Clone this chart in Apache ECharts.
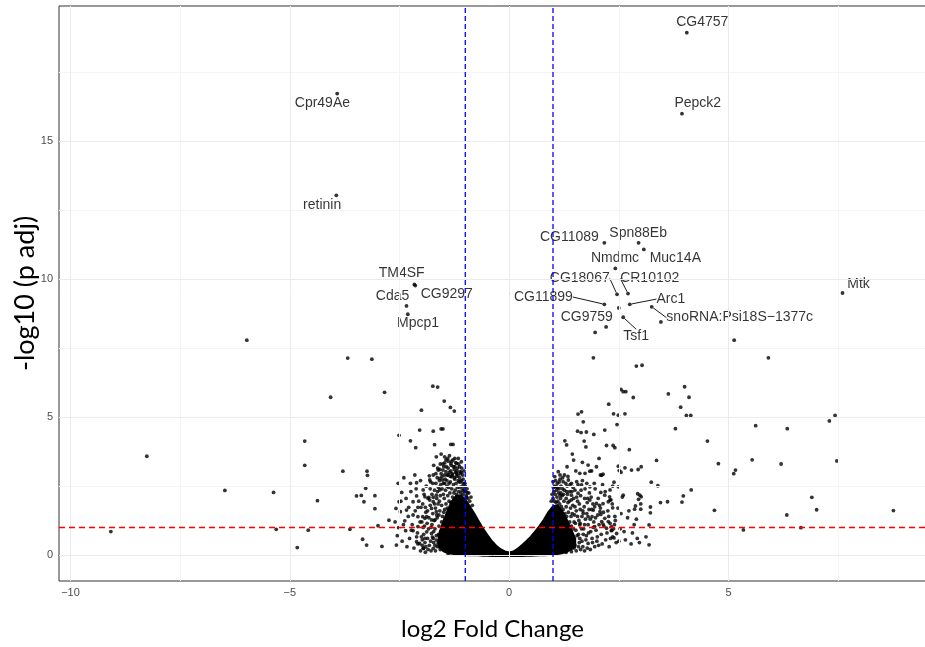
<!DOCTYPE html>
<html>
<head>
<meta charset="utf-8">
<script src="https://cdn.jsdelivr.net/npm/echarts@6/dist/echarts.min.js"></script>
<style>
  html, body { margin: 0; padding: 0; background: #ffffff; }
  #chart { width: 925px; height: 647px; }
</style>
</head>
<body>
<div id="chart"></div>
<script>
// ---- axis ticks ----
const xMajorTicks = [-10, -5, 0, 5];
const xMinorTicks = [-7.5, -2.5, 2.5, 7.5];
const yMajorTicks = [0, 5, 10, 15];
const yMinorTicks = [2.5, 7.5, 12.5, 17.5];

// ---- significance thresholds ----
const foldChangeCutoffs = [-1, 1];
const padjCutoff = 1;

// ---- labelled genes ----
const labelNames = ['CG4757', 'Pepck2', 'Cpr49Ae', 'retinin', 'TM4SF', 'CG9297', 'Cda5', 'Mpcp1',
  'CG11089', 'Spn88Eb', 'Muc14A', 'Nmdmc', 'CG18067', 'CR10102', 'CG11899', 'Arc1',
  'CG9759', 'Tsf1', 'snoRNA:Psi18S\u22121377c', 'Mtk'];
const labelFC = [4.05, 3.94, -3.92, -3.94, -2.16, -2.14, -2.34, -2.31,
  2.17, 2.95, 3.07, 2.42, 2.46, 2.71, 2.17, 2.75,
  2.50, 2.60, 3.25, 7.60];
const labelP = [18.94, 16.0, 16.73, 13.04, 9.81, 9.77, 9.03, 8.73,
  11.32, 11.32, 11.08, 10.39, 9.45, 9.48, 9.09, 9.09,
  8.96, 8.62, 9.0, 9.50];

// ---- remaining genes: [log2 fold change, -log10 adjusted p] ----
const downGenes = [
  [-9.08,0.85],[-8.26,3.58],[-6.48,2.34],[-5.98,7.79],[-5.37,2.27],[-5.31,0.93],[-4.83,0.27],
  [-4.66,4.13],[-4.66,3.25],[-4.58,0.9],[-4.37,1.97],[-4.07,5.72],[-3.79,3.04],[-3.68,7.14],
  [-3.63,0.93],[-3.48,2.14],[-3.37,2.16],[-3.34,0.57],[-3.31,1.93],[-3.27,2.42],[-3.25,0.36],
  [-3.24,3.04],[-3.23,2.89],[-3.13,7.1],[-3.06,2.15],[-3.06,1.68],[-2.99,1.06],[-2.9,0.31],
  [-2.84,5.9],[-2.74,1.26],[-2.58,1.69],[-2.57,0.36],[-2.53,2.6],[-2.52,0.99],[-2.51,4.34],
  [-2.51,1.93],[-2.48,1.57],[-2.45,2.27],[-2.4,2.8],[-2.38,1.24],[-2.36,0.88],[-2.34,1.63],
  [-2.29,1.73],[-2.25,4.14],[-2.25,2.6],[-2.23,0.9],[-2.19,0.88],[-2.19,1.93],[-2.19,1.45],
  [-2.15,2.9],[-2.13,3.89],[-2.11,2.14],[-2.11,0.66],[-2.11,2.62],[-2.11,0.48],[-2.08,1.73],
  [-2.08,0.4],[-2.08,1.39],[-2.08,1.03],[-2.04,4.53],[-2.04,0.42],[-2.01,1.73],[-2.0,5.25],
  [-2.0,0.66],[-1.97,1.39],[-1.96,2.36],[-1.96,1.0],[-1.96,0.24],[-1.95,0.24],[-1.92,2.11],
  [-1.92,1.33],[-1.92,0.6],[-1.91,1.73],[-1.88,1.39],[-1.88,0.84],[-1.83,2.09],[-1.82,2.87],
  [-1.81,2.72],[-1.81,1.99],[-1.77,1.69],[-1.77,1.27],[-1.77,0.78],[-1.74,6.12],[-1.73,4.49],
  [-1.73,2.09],[-1.73,1.93],[-1.73,0.6],[-1.73,0.24],[-1.72,3.25],[-1.7,4.0],[-1.69,1.27],
  [-1.66,3.56],[-1.66,2.17],[-1.66,1.57],[-1.66,0.54],[-1.64,2.8],[-1.63,6.09],[-1.62,3.08],
  [-1.62,0.42],[-1.6,1.45],[-1.58,3.1],[-1.58,2.78],[-1.58,2.36],[-1.58,0.66],[-1.55,3.66],
  [-1.55,4.57],[-1.52,2.72],[-1.51,4.57],[-1.51,3.08],[-1.5,0.33],[-1.48,5.58],[-1.47,3.34],
  [-1.47,3.56],[-1.47,2.6],[-1.44,3.02],[-1.43,0.24],[-1.4,3.5],[-1.39,2.9],[-1.39,0.04],
  [-1.34,5.35],[-1.33,4.01],[-1.33,3.32],[-1.31,2.84],[-1.31,0.18],[-1.28,4.01],[-1.25,5.22],
  [-1.24,3.2],[-1.2,3.32],[-1.2,2.96],[-1.12,3.02],[-1.09,3.38],
  [-1.98,0.55],[-1.93,1.05],[-1.9,0.3],[-1.86,1.6],[-1.84,0.95],[-1.8,2.4],[-1.79,0.5],
  [-1.76,1.1],[-1.74,2.6],[-1.72,0.85],[-1.7,1.85],[-1.69,0.35],[-1.67,2.95],[-1.65,1.45],
  [-1.63,2.3],[-1.61,0.75],[-1.59,1.95],[-1.57,3.3],[-1.56,2.55],[-1.54,1.2],[-1.53,2.85],
  [-1.52,0.5],[-1.5,2.2],[-1.49,3.2],[-1.47,1.65],[-1.46,2.75],[-1.45,0.3],[-1.44,3.45],
  [-1.42,2.5],[-1.41,2.9],[-1.39,3.15],[-1.37,2.6],[-1.36,3.6],[-1.34,2.85],[-1.33,3.05],
  [-1.31,3.4],[-1.29,2.9],[-1.27,3.2],[-1.25,2.8],[-1.24,3.5],[-1.22,3.0],[-1.2,2.85],
  [-1.18,3.15],[-1.16,2.7],[-1.15,3.3],[-1.13,2.8],[-1.11,2.65],[-1.09,3.0],[-1.07,2.5],
  [-1.05,2.75],[-1.03,2.4],[-1.01,2.6],[-0.99,2.3],[-0.97,2.1],[-0.95,2.25],
  [-1.99,1.2],[-1.97,1.85],[-1.95,0.75],[-1.94,2.2],[-1.92,0.45],[-1.9,1.55],[-1.89,2.5],
  [-1.87,1.15],[-1.86,0.6],[-1.85,2.05],[-1.83,1.35],[-1.82,0.35],[-1.8,1.8],[-1.79,2.65],
  [-1.78,1.0],[-1.76,2.2],[-1.75,0.65],[-1.74,1.5],[-1.73,2.9],[-1.71,1.25],[-1.7,2.35],
  [-1.69,0.95],[-1.68,1.7],[-1.67,2.6],[-1.66,0.7],[-1.65,2.05],[-1.64,1.35],[-1.63,3.15],
  [-1.62,1.85],[-1.61,2.45],[-1.6,1.05],[-1.59,2.7],[-1.58,1.6],[-1.57,2.15],[-1.56,0.85],
  [-1.55,2.95],[-1.54,1.8],[-1.53,2.4],[-1.52,1.4],[-1.51,3.3],[-1.5,2.6],[-1.49,1.55],
  [-1.48,2.05],[-1.47,2.9],[-1.46,1.3],[-1.45,2.35],[-1.44,1.85],[-1.43,3.2],[-1.42,2.7],
  [-1.41,1.7],[-1.4,2.15],[-1.39,3.4],[-1.38,2.45],[-1.37,1.95],[-1.36,3.0],[-1.35,2.25],
  [-1.34,2.65],[-1.33,1.9],[-1.32,3.25],[-1.31,2.4],[-1.3,2.95],[-1.29,2.1],[-1.28,3.45],
  [-1.27,2.55],[-1.26,2.25],[-1.25,3.1],[-1.24,2.75],[-1.23,2.35],[-1.22,3.35],[-1.21,2.6],
  [-1.2,2.2],[-1.19,3.05],[-1.18,2.45],[-1.17,2.9],[-1.16,3.5],[-1.15,2.3],[-1.14,2.65],
  [-1.13,3.2],[-1.12,2.45],[-1.11,2.95],[-1.1,2.25],[-1.09,2.7],[-1.08,3.15],[-1.07,2.35],
  [-1.06,2.9],[-1.05,2.2],[-1.04,2.6],[-1.03,3.05],[-1.02,2.3],[-1.0,2.5],[-0.98,2.15],
  [-0.96,2.4],[-0.94,2.05],[-0.92,2.25],[-0.9,1.95],[-0.87,2.1],[-0.84,1.8],
  [-2.02,0.15],[-1.98,0.35],[-1.91,0.1],[-1.85,0.2],[-1.78,0.15],[-1.72,0.45],[-1.68,0.15],
  [-1.64,0.3],[-1.6,0.5],[-1.57,0.2],[-1.53,0.65],[-1.48,0.45],[-1.44,0.15],[-1.41,0.55],
  [-2.6,1.2],[-2.55,0.7],[-2.47,1.95],[-2.44,0.5],[-2.41,1.1],[-2.35,2.05],[-2.33,0.3],
  [-2.3,1.4],[-2.27,0.6],[-2.24,2.3],[-2.21,1.1],[-2.17,0.25],[-2.14,1.6],[-2.12,2.4],
  [-2.09,0.8],[-2.06,1.95],[-2.03,1.2],[-2.02,2.7]
];
const upGenes = [
  [1.0,2.66],[1.04,2.84],[1.07,2.47],[1.12,3.02],[1.16,2.9],[1.16,2.17],[1.16,0.54],[1.23,2.66],
  [1.27,4.14],[1.27,0.3],[1.31,3.99],[1.31,2.3],[1.32,3.2],[1.35,2.72],[1.38,0.36],[1.42,2.6],
  [1.42,2.17],[1.44,3.66],[1.46,0.54],[1.47,3.44],[1.5,0.36],[1.52,3.05],[1.54,2.66],[1.56,4.49],
  [1.57,5.11],[1.57,2.24],[1.61,2.96],[1.61,1.09],[1.61,0.6],[1.64,4.44],[1.65,5.19],[1.65,2.54],
  [1.67,3.36],[1.69,4.83],[1.69,1.51],[1.71,4.13],[1.73,2.96],[1.75,3.92],[1.76,4.46],[1.77,2.6],
  [1.8,3.26],[1.8,1.39],[1.8,0.42],[1.84,3.04],[1.84,2.47],[1.84,1.99],[1.88,3.05],[1.89,1.39],
  [1.92,7.15],[1.92,1.63],[1.93,4.37],[1.95,1.75],[1.95,1.03],[1.96,8.07],[1.99,3.2],[1.99,1.87],
  [2.01,0.66],[2.05,3.5],[2.07,1.57],[2.08,2.9],[2.09,2.27],[2.09,1.47],[2.11,2.89],[2.11,1.21],
  [2.14,2.93],[2.14,1.86],[2.14,1.12],[2.18,4.53],[2.18,2.17],[2.18,1.33],[2.21,8.27],[2.22,3.97],
  [2.22,0.97],[2.26,1.93],[2.26,1.21],[2.27,5.47],[2.29,2.11],[2.3,2.36],[2.3,1.99],[2.3,1.15],
  [2.33,1.03],[2.33,0.88],[2.34,0.9],[2.36,2.5],[2.36,1.71],[2.36,0.66],[2.37,3.97],[2.38,5.12],
  [2.39,2.64],[2.39,0.62],[2.41,3.89],[2.41,1.4],[2.45,0.78],[2.46,4.73],[2.49,5.07],[2.49,3.22],
  [2.49,2.47],[2.51,3.06],[2.55,6.0],[2.55,3.0],[2.6,5.92],[2.6,2.17],[2.64,5.12],[2.64,3.16],
  [2.66,5.92],[2.74,3.82],[2.79,3.08],[2.83,5.71],[2.86,1.66],[2.88,1.78],[2.9,6.85],[2.93,2.22],
  [2.94,3.1],[2.95,2.02],[2.98,2.17],[3.0,1.85],[3.0,1.66],[3.01,3.2],[3.01,2.11],[3.03,6.88],
  [3.12,0.66],[3.19,1.09],[3.19,0.37],[3.22,1.74],[3.22,1.53],[3.24,2.64],[3.36,3.43],[3.39,2.51],
  [3.46,8.45],[3.45,1.9],[3.61,1.93],[3.63,5.84],[3.79,4.58],[3.91,5.36],[3.94,1.92],[3.97,2.14],
  [4.0,6.1],[4.04,5.06],[4.1,5.72],[4.14,5.06],[4.15,2.36],[4.52,4.13],[4.68,1.62],[4.77,3.31],
  [5.12,2.95],[5.13,7.79],[5.16,3.08],[5.34,0.91],[5.54,3.45],[5.62,4.69],[5.91,7.15],[6.2,3.3],
  [6.33,1.45],[6.34,4.58],[6.65,0.99],[6.9,2.09],[7.01,1.64],[7.3,4.86],[7.43,5.06],[7.47,3.41],
  [8.76,1.61],
  [1.02,2.3],[1.04,2.5],[1.06,1.2],[1.08,2.35],[1.1,2.6],[1.12,0.3],[1.14,2.4],[1.16,2.75],
  [1.18,2.25],[1.2,0.5],[1.22,2.4],[1.24,2.2],[1.26,2.9],[1.28,0.25],[1.3,2.05],[1.32,2.5],
  [1.34,1.9],[1.36,0.7],[1.38,2.3],[1.4,1.7],[1.42,2.0],[1.44,1.5],[1.46,2.45],[1.48,1.2],
  [1.5,1.75],[1.52,0.9],[1.54,2.1],[1.56,1.4],[1.58,0.75],[1.6,1.85],[1.62,1.15],[1.64,2.35],
  [1.66,0.5],[1.68,1.6],[1.7,0.95],[1.72,2.05],[1.74,1.3],[1.76,0.7],[1.78,1.9],[1.8,1.1],
  [1.83,2.25],[1.86,0.85],[1.88,1.65],[1.9,0.45],[1.93,1.2],[1.96,2.4],[1.98,0.9],[2.02,1.45],
  [2.04,0.35],[2.06,1.8],[2.1,0.75],[2.13,2.55],[2.16,1.05],[2.2,0.55],[2.25,1.6],[2.28,0.3],
  [2.32,2.0],[2.38,0.95],[2.42,1.25],[2.5,0.5],[2.55,1.5],[2.62,0.85],[2.7,1.35],[2.78,0.4],
  [2.85,1.1],[2.92,0.6],
  [0.96,1.95],[0.98,2.2],[1.0,2.05],[1.01,2.45],[1.03,1.95],[1.05,2.2],[1.06,2.7],[1.07,1.9],
  [1.09,2.1],[1.1,2.45],[1.11,1.95],[1.13,2.25],[1.14,2.65],[1.15,1.85],[1.17,2.05],[1.18,2.5],
  [1.19,1.75],[1.21,2.15],[1.22,2.8],[1.23,1.65],[1.25,1.95],[1.26,2.35],[1.27,1.5],[1.29,2.6],
  [1.3,1.75],[1.31,1.4],[1.33,2.2],[1.34,2.85],[1.35,1.55],[1.37,1.95],[1.38,1.2],[1.39,2.55],
  [1.41,1.4],[1.42,1.05],[1.43,2.3],[1.45,1.8],[1.46,0.95],[1.47,2.05],[1.49,1.45],[1.5,2.35],
  [1.51,1.15],[1.53,1.6],[1.55,0.7],[1.56,1.95],[1.57,2.55],[1.59,1.25],[1.6,0.45],[1.62,1.65],
  [1.63,2.15],[1.65,0.95],[1.66,1.4],[1.67,2.7],[1.69,0.75],[1.71,1.75],[1.72,1.1],[1.73,2.4],
  [1.75,0.55],[1.77,1.5],[1.79,2.05],[1.81,0.8],[1.82,1.65],[1.85,1.3],[1.87,2.1],[1.89,0.6],
  [1.91,1.85],[1.92,1.0],[1.94,2.6],[1.97,1.35],[2.0,0.5],[2.03,2.05],[2.05,1.1],[2.08,1.7],
  [2.12,0.4],[2.15,1.55],[2.19,2.3],[2.23,0.8],[2.27,1.4],[2.31,0.6],[2.35,1.85],[2.4,1.1],
  [2.44,0.45],[2.48,1.7],[2.53,0.95],[2.58,2.1],[2.65,0.55],[2.73,1.6],[2.81,0.8],[2.9,1.3],
  [2.97,0.45],
  [1.3,0.1],[1.35,0.2],[1.42,0.12],[1.48,0.25],[1.53,0.15],[1.58,0.3],[1.63,0.2],[1.68,0.3],
  [1.72,0.15],[1.78,0.25],[1.85,0.2],[1.95,0.3]
];

// ---- dense core of the cloud, where overlapping points merge into solid black ----
const coreFC   = [-1.6, -1.5, -1.4, -1.3, -1.2, -1.1, -1.0, -0.9, -0.8, -0.7, -0.6, -0.5, -0.4, -0.3, -0.2, -0.1, 0,
                  0.1, 0.2, 0.3, 0.4, 0.5, 0.6, 0.7, 0.8, 0.9, 1.0, 1.1, 1.2, 1.3, 1.4, 1.5];
const coreLow  = [0.3, 0.15, 0.08, 0.05, 0.03, 0.02, 0.01, 0, 0, 0, -0.02, -0.02, -0.03, -0.03, -0.03, -0.03, -0.03,
                  -0.03, -0.03, -0.03, -0.02, -0.02, -0.01, 0, 0, 0.01, 0.02, 0.04, 0.07, 0.12, 0.2, 0.3];
const coreHigh = [0.7, 1.2, 1.6, 1.95, 2.15, 2.15, 2.0, 1.75, 1.5, 1.22, 0.95, 0.72, 0.5, 0.33, 0.2, 0.12, 0.08,
                  0.12, 0.22, 0.36, 0.5, 0.66, 0.85, 1.05, 1.28, 1.55, 1.75, 1.8, 1.6, 1.3, 0.95, 0.6];

// placement of each gene label relative to its point (px) and whether a leader line is drawn
const labelPlacement = {
  'CG4757': [15.5, -10.5, false], 'Pepck2': [15.8, -11, false], 'Cpr49Ae': [-14.8, 10, false],
  'retinin': [-14.2, 10, false], 'TM4SF': [-12.7, -11.3, false], 'CG9297': [31.5, 8.5, false],
  'Cda5': [-14, -9.7, false], 'Mpcp1': [10.3, 9, false], 'CG11089': [-35, -5.7, false],
  'Spn88Eb': [-0.4, -9.2, false], 'Muc14A': [31.5, 8.7, false], 'Nmdmc': [-0.3, -10.3, false],
  'CG18067': [-37.3, -16, true], 'CR10102': [21.7, -15.3, true], 'CG11899': [-61, -7.3, true],
  'Arc1': [41, -5.2, true], 'CG9759': [-32, 8.8, false], 'Tsf1': [13, 19, true],
  'snoRNA:Psi18S\u22121377c': [88, 10.8, true], 'Mtk': [16, -8.9, false]
};

const X_MIN = -10.262, X_MAX = 9.503, Y_MIN = -0.943, Y_MAX = 19.906;
const toMinus = v => String(v).replace('-', '\u2212');
const gridLine = (vals, axis, color) => vals.map(v => ({ [axis]: v, lineStyle: { color: color } }));

const chart = echarts.init(document.getElementById('chart'), null, { renderer: 'canvas' });

const labelledData = labelNames.map((n, i) => ({
  name: n,
  value: [labelFC[i], labelP[i]],
  labelLine: { show: labelPlacement[n][2] }
}));

const cutoffSeries = foldChangeCutoffs.map(v => ({
  type: 'line', z: 5, silent: true, symbol: 'none', animation: false,
  data: [[v, Y_MIN], [v, Y_MAX]],
  lineStyle: { color: '#0000ff', type: [5, 3], width: 1.3 },
  itemStyle: { color: '#0000ff' }
}));

chart.setOption({
  animation: false,
  backgroundColor: '#ffffff',
  grid: {
    left: 59, right: -1, top: 6, bottom: 66, containLabel: false, outerBoundsMode: 'none',
    show: true, borderColor: '#333333', borderWidth: 1, backgroundColor: 'transparent'
  },
  xAxis: {
    type: 'value', min: X_MIN, max: X_MAX,
    name: 'log2 Fold Change', nameLocation: 'middle', nameGap: 36, nameMoveOverlap: false,
    nameTextStyle: { fontFamily: 'Lato', fontSize: 24, color: '#000' },
    axisLine: { show: true, lineStyle: { color: '#333333', width: 1 } },
    axisTick: { show: true, length: 3, customValues: xMajorTicks, lineStyle: { color: '#333333' } },
    axisLabel: { customValues: xMajorTicks, formatter: toMinus, margin: 6, fontFamily: 'Liberation Sans', fontSize: 11, color: '#4d4d4d' },
    splitLine: { show: false }
  },
  yAxis: {
    type: 'value', min: Y_MIN, max: Y_MAX,
    name: '-log10 (p adj)', nameLocation: 'middle', nameGap: 10, nameRotate: 90, nameMoveOverlap: false,
    nameTextStyle: { fontFamily: 'Lato', fontSize: 27, color: '#000', backgroundColor: '#ffffff', padding: [0, 0, 10, 0] },
    axisLine: { show: true, lineStyle: { color: '#333333', width: 1 } },
    axisTick: { show: true, length: 3, customValues: yMajorTicks, lineStyle: { color: '#333333' } },
    axisLabel: { customValues: yMajorTicks, formatter: toMinus, margin: 6, fontFamily: 'Liberation Sans', fontSize: 11, color: '#4d4d4d' },
    splitLine: { show: false }
  },
  series: [
    {
      // panel grid lines
      type: 'line', data: [], silent: true, z: 0,
      markLine: {
        silent: true, symbol: 'none', label: { show: false }, animation: false,
        lineStyle: { type: 'solid', width: 1 },
        data: [].concat(
          gridLine(xMinorTicks, 'xAxis', '#f4f4f4'), gridLine(yMinorTicks, 'yAxis', '#f4f4f4'),
          gridLine(xMajorTicks, 'xAxis', '#ebebeb'), gridLine(yMajorTicks, 'yAxis', '#ebebeb'))
      }
    },
    {
      // solid core of the cloud
      type: 'custom', z: 2, silent: true,
      data: [0],
      renderItem: function (params, api) {
        const pts = [];
        for (let i = 0; i < coreFC.length; i++) pts.push(api.coord([coreFC[i], coreHigh[i]]));
        for (let i = coreFC.length - 1; i >= 0; i--) pts.push(api.coord([coreFC[i], coreLow[i]]));
        return { type: 'polygon', shape: { points: pts }, style: { fill: '#000', stroke: '#000', lineWidth: 2.5, lineJoin: 'round' } };
      }
    },
    {
      type: 'scatter', z: 3, silent: true, symbol: 'circle', symbolSize: 3.8,
      itemStyle: { color: '#000' },
      data: downGenes.concat(upGenes)
    },
    {
      type: 'scatter', z: 4, silent: true, symbol: 'circle', symbolSize: 3.8,
      itemStyle: { color: '#000' },
      data: labelledData,
      label: {
        show: true, position: 'inside', formatter: '{b}',
        fontFamily: 'Liberation Sans', fontSize: 14, color: '#000'
      },
      labelLine: { show: false, lineStyle: { color: '#000', width: 0.9 } },
      labelLayout: function (p) {
        const pl = labelPlacement[labelNames[p.dataIndex]];
        return { dx: pl[0], dy: pl[1], hideOverlap: false };
      }
    },
    ...cutoffSeries,
    {
      // adjusted p-value threshold
      type: 'line', z: 5, silent: true, symbol: 'none', animation: false,
      data: [[X_MIN, padjCutoff], [X_MAX, padjCutoff]],
      lineStyle: { color: '#ff0000', type: [6, 4], width: 1.5 },
      itemStyle: { color: '#ff0000' }
    }
  ]
});
</script>
</body>
</html>
